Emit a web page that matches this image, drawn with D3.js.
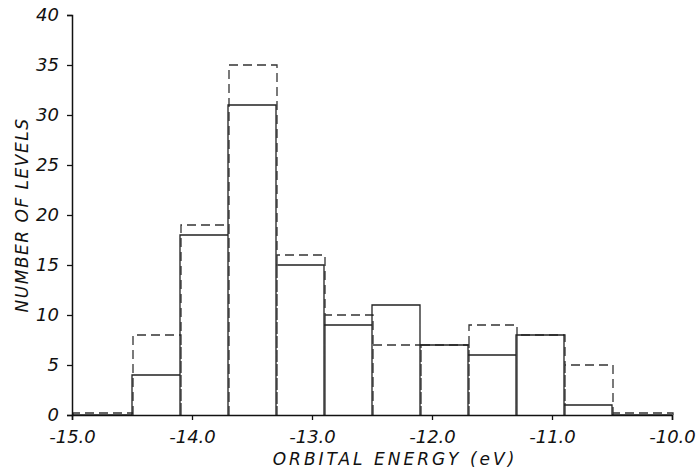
<!DOCTYPE html>
<html>
<head>
<meta charset="utf-8">
<script src="https://cdn.jsdelivr.net/npm/d3@7"></script>
<style>
  body { margin: 0; background: #fff; }
  text { font-family: "DejaVu Sans", sans-serif; font-style: italic; fill: #111; }
</style>
</head>
<body>
<div id="chart"></div>
<script>
// bin edges (eV) and counts
var binEdges = [-15.0, -14.5, -14.1, -13.7, -13.3, -12.9, -12.5, -12.1, -11.7, -11.3, -10.9, -10.5, -10.0];
var solidCounts = [0, 4, 18, 31, 15, 9, 11, 7, 6, 8, 1, 0];
var dashedCounts = [0.2, 8, 19, 35, 16, 10, 7, 7, 9, 8, 5, 0.2];
var xTicks = [-15, -14, -13, -12, -11, -10];
var xTickLabels = ["-15.0", "-14.0", "-13.0", "-12.0", "-11.0", "-10.0"];
var yTicks = [0, 5, 10, 15, 20, 25, 30, 35, 40];

const width = 698, height = 472;
const margin = {top: 15, right: 26, bottom: 57, left: 72};

var svg = d3.select("#chart").append("svg")
  .attr("width", width)
  .attr("height", height);

var x_scale = d3.scaleLinear()
  .domain([-15, -10])
  .range([margin.left, width - margin.right]);

var y_scale = d3.scaleLinear()
  .domain([0, 40])
  .range([height - margin.bottom, margin.top]);

// one outline per bin, open at the bottom (baseline is the axis)
function binPath(counts, dx) {
  var p = d3.path();
  counts.forEach(function(c, i) {
    var x0 = x_scale(binEdges[i]) + dx, x1 = x_scale(binEdges[i + 1]) + dx;
    p.moveTo(x0, y_scale(0));
    p.lineTo(x0, y_scale(c));
    p.lineTo(x1, y_scale(c));
    p.lineTo(x1, y_scale(0));
  });
  return p.toString();
}

svg.append("path")
  .attr("d", binPath(dashedCounts, 1))
  .attr("fill", "none")
  .attr("stroke", "#333")
  .attr("stroke-width", 1.3)
  .attr("stroke-dasharray", "9,5");

svg.append("path")
  .attr("d", binPath(solidCounts, 0))
  .attr("fill", "none")
  .attr("stroke", "#222")
  .attr("stroke-width", 1.3);

// y axis
var y_axis = svg.append("g")
  .attr("transform", "translate(" + margin.left + ",0)")
  .call(d3.axisLeft(y_scale).tickValues(yTicks).tickSize(5).tickPadding(8).tickFormat(d3.format("d")));
y_axis.select(".domain").attr("stroke", "#111").attr("stroke-width", 1.5);
y_axis.selectAll(".tick line").attr("stroke", "#111").attr("stroke-width", 1.3);
y_axis.selectAll(".tick text")
  .style("font-size", "18px")
  .style("font-family", "DejaVu Sans, sans-serif")
  .style("font-style", "italic")
  .attr("fill", "#111");

// x axis
var x_axis = svg.append("g")
  .attr("transform", "translate(0," + y_scale(0) + ")")
  .call(d3.axisBottom(x_scale).tickValues(xTicks).tickSize(5).tickPadding(10)
    .tickFormat(function(d, i) { return xTickLabels[i]; }));
x_axis.select(".domain").attr("stroke", "#111").attr("stroke-width", 1.5);
x_axis.selectAll(".tick line").attr("stroke", "#111").attr("stroke-width", 1.3);
x_axis.selectAll(".tick text")
  .style("font-size", "18px")
  .style("font-family", "DejaVu Sans, sans-serif")
  .style("font-style", "italic")
  .attr("fill", "#111");

// axis titles
svg.append("text")
  .attr("x", 395)
  .attr("y", 465)
  .attr("text-anchor", "middle")
  .style("font-size", "17px")
  .style("letter-spacing", "3px")
  .text("ORBITAL  ENERGY (eV)");

svg.append("text")
  .attr("transform", "translate(28,215) rotate(-90)")
  .attr("text-anchor", "middle")
  .style("font-size", "17px")
  .style("letter-spacing", "1.5px")
  .text("NUMBER OF LEVELS");
</script>
</body>
</html>
